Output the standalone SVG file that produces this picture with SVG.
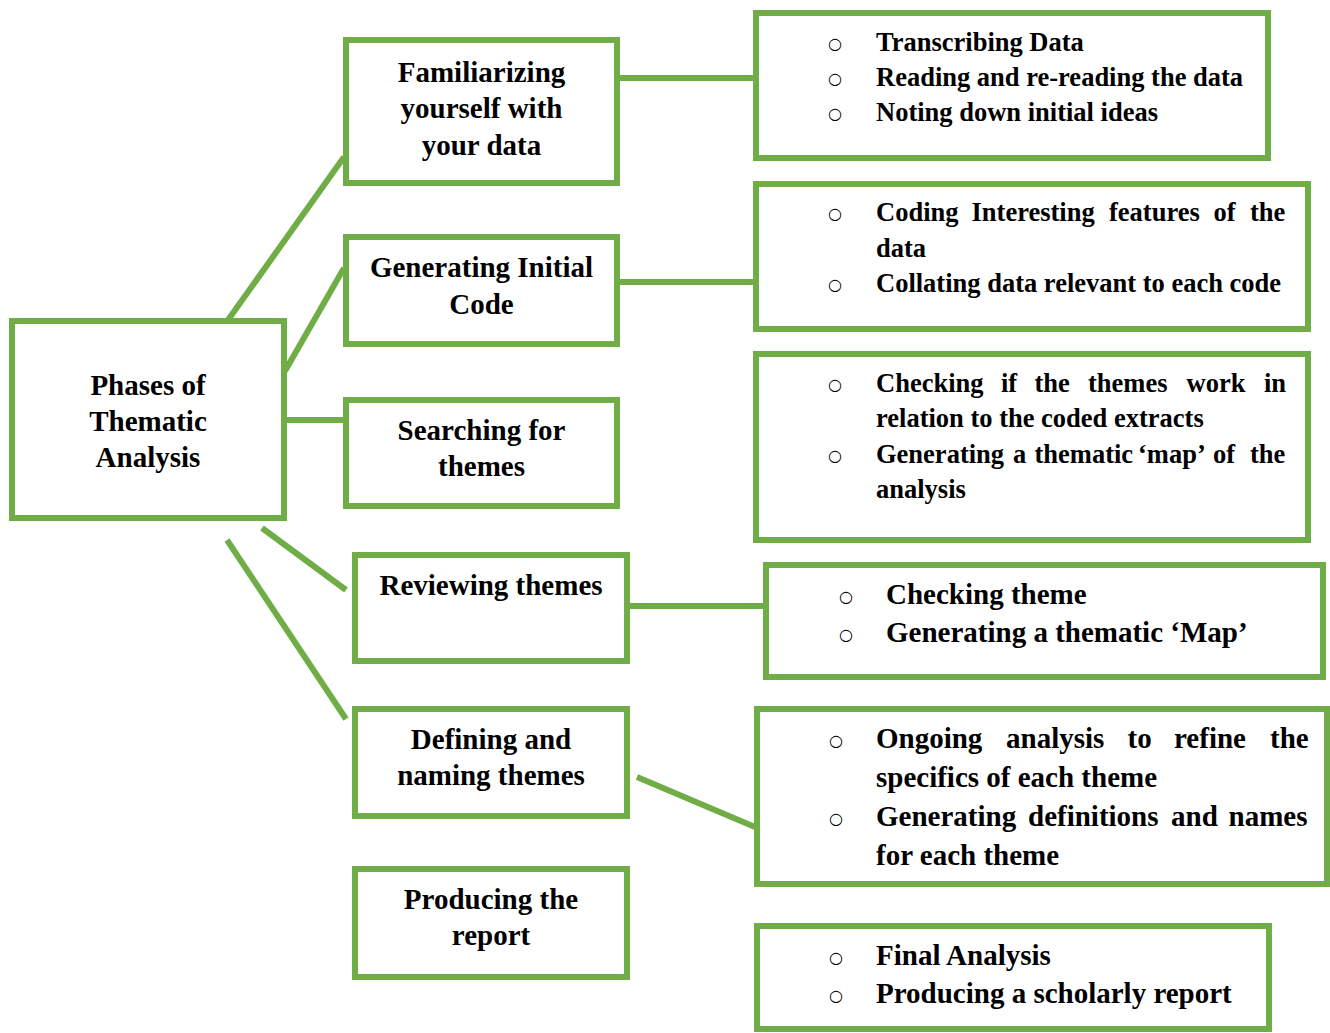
<svg xmlns="http://www.w3.org/2000/svg" width="1330" height="1033" viewBox="0 0 1330 1033">
<style>
.box{fill:#fff;stroke:#70AD47;stroke-width:6}
.con line{stroke:#70AD47;stroke-width:6;stroke-linecap:butt}
.lt{font-family:"Liberation Serif","Times New Roman",serif;font-weight:bold;font-size:29px;fill:#000;text-anchor:middle}
.rt{font-family:"Liberation Serif","Times New Roman",serif;font-weight:bold;font-size:26.5px;fill:#000}
.rt2{font-family:"Liberation Serif","Times New Roman",serif;font-weight:bold;font-size:29px;fill:#000}
.bl{font-family:"DejaVu Sans",sans-serif;font-size:16px;fill:#000;text-anchor:middle}
</style>
<rect width="1330" height="1033" fill="#fff"/>
<g id="connectors" class="con">
<line x1="228" y1="320" x2="344" y2="157"/>
<line x1="285" y1="371" x2="344" y2="268"/>
<line x1="286" y1="420" x2="344" y2="420"/>
<line x1="262" y1="528" x2="346" y2="590"/>
<line x1="227" y1="540" x2="346" y2="719"/>
<line x1="620" y1="78" x2="754" y2="78"/>
<line x1="620" y1="282" x2="754" y2="282"/>
<line x1="630" y1="606" x2="764" y2="606"/>
<line x1="637" y1="777" x2="755" y2="827"/>
</g>
<g id="phases">
<rect class="box" x="12" y="321" width="272" height="197"/>
<text class="lt" x="148" y="395">Phases of</text>
<text class="lt" x="148" y="431">Thematic</text>
<text class="lt" x="148" y="467">Analysis</text>
</g>
<g id="familiarizing">
<rect class="box" x="346" y="40" width="271" height="143"/>
<text class="lt" x="481.5" y="81.5">Familiarizing</text>
<text class="lt" x="481.5" y="118">yourself with</text>
<text class="lt" x="481.5" y="154.5">your data</text>
</g>
<g id="generating">
<rect class="box" x="346" y="237" width="271" height="107"/>
<text class="lt" x="481.5" y="277">Generating Initial</text>
<text class="lt" x="481.5" y="313.5">Code</text>
</g>
<g id="searching">
<rect class="box" x="346" y="400" width="271" height="106"/>
<text class="lt" x="481.5" y="439.5">Searching for</text>
<text class="lt" x="481.5" y="475.5">themes</text>
</g>
<g id="reviewing">
<rect class="box" x="355" y="555" width="272" height="106"/>
<text class="lt" x="491" y="595">Reviewing themes</text>
</g>
<g id="defining">
<rect class="box" x="355" y="709" width="272" height="107"/>
<text class="lt" x="491" y="748.5">Defining and</text>
<text class="lt" x="491" y="785">naming themes</text>
</g>
<g id="producing">
<rect class="box" x="355" y="869" width="272" height="108"/>
<text class="lt" x="491" y="908.5">Producing the</text>
<text class="lt" x="491" y="945">report</text>
</g>
<g id="detail-familiarizing">
<rect class="box" x="756" y="13" width="512" height="145"/>
<text class="bl" x="835" y="49">○</text>
<text class="bl" x="835" y="84">○</text>
<text class="bl" x="835" y="119">○</text>
<text class="rt" x="876" y="51">Transcribing Data</text>
<text class="rt" x="876" y="86">Reading and re-reading the data</text>
<text class="rt" x="876" y="121">Noting down initial ideas</text>
</g>
<g id="detail-generating">
<rect class="box" x="756" y="184" width="552" height="145"/>
<text class="bl" x="835" y="219">○</text>
<text class="bl" x="835" y="290">○</text>
<text class="rt" y="221"><tspan x="876">Coding</tspan> <tspan x="971.5">Interesting</tspan> <tspan x="1109">features</tspan> <tspan x="1213.5">of</tspan> <tspan x="1250">the</tspan></text>
<text class="rt" x="876" y="257">data</text>
<text class="rt" x="876" y="292">Collating data relevant to each code</text>
</g>
<g id="detail-searching">
<rect class="box" x="756" y="354" width="552" height="186"/>
<text class="bl" x="835" y="390">○</text>
<text class="bl" x="835" y="460.5">○</text>
<text class="rt" y="392"><tspan x="876">Checking</tspan> <tspan x="1001">if</tspan> <tspan x="1034.5">the</tspan> <tspan x="1088">themes</tspan> <tspan x="1186.5">work</tspan> <tspan x="1264">in</tspan></text>
<text class="rt" x="876" y="427">relation to the coded extracts</text>
<text class="rt" y="462.5"><tspan x="876">Generating</tspan> <tspan x="1013">a</tspan> <tspan x="1034.5">thematic</tspan> <tspan x="1138">‘map’</tspan> <tspan x="1213">of</tspan> <tspan x="1250">the</tspan></text>
<text class="rt" x="876" y="497.5">analysis</text>
</g>
<g id="detail-reviewing">
<rect class="box" x="766" y="565" width="557" height="112"/>
<text class="bl" x="846" y="602">○</text>
<text class="bl" x="846" y="640">○</text>
<text class="rt2" x="886" y="604">Checking theme</text>
<text class="rt2" x="886" y="642">Generating a thematic ‘Map’</text>
</g>
<g id="detail-defining">
<rect class="box" x="757" y="709" width="570" height="175"/>
<text class="bl" x="836" y="746">○</text>
<text class="bl" x="836" y="824">○</text>
<text class="rt2" y="748"><tspan x="876">Ongoing</tspan> <tspan x="1006">analysis</tspan> <tspan x="1127.5">to</tspan> <tspan x="1174">refine</tspan> <tspan x="1270">the</tspan></text>
<text class="rt2" x="876" y="787">specifics of each theme</text>
<text class="rt2" y="826"><tspan x="876">Generating</tspan> <tspan x="1028">definitions</tspan> <tspan x="1171">and</tspan> <tspan x="1228.5">names</tspan></text>
<text class="rt2" x="876" y="865">for each theme</text>
</g>
<g id="detail-producing">
<rect class="box" x="757" y="926" width="512" height="103"/>
<text class="bl" x="836" y="963">○</text>
<text class="bl" x="836" y="1001">○</text>
<text class="rt2" x="876" y="965">Final Analysis</text>
<text class="rt2" x="876" y="1003">Producing a scholarly report</text>
</g>
</svg>
